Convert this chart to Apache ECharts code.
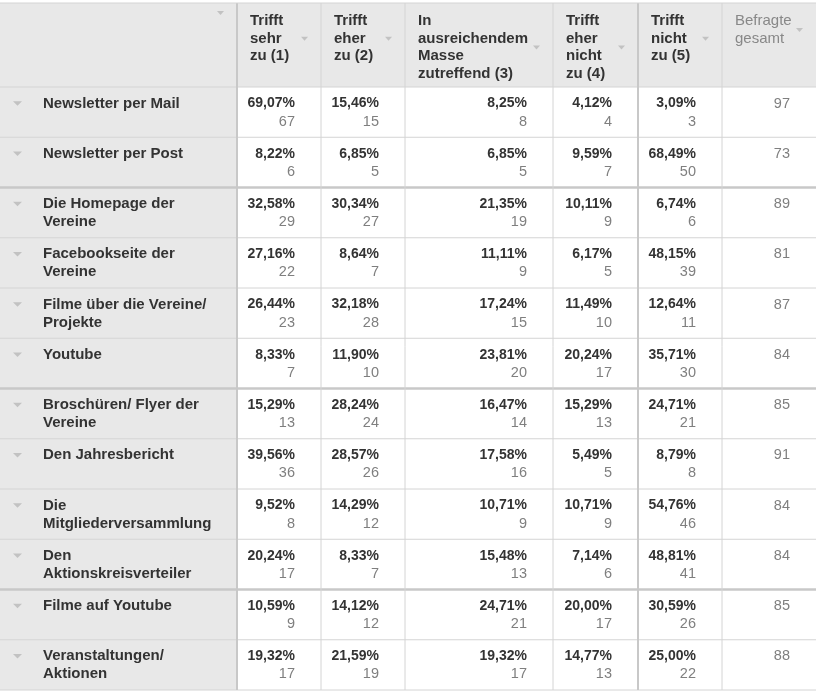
<!DOCTYPE html>
<html>
<head>
<meta charset="utf-8">
<script src="https://cdn.jsdelivr.net/npm/echarts@6/dist/echarts.min.js"></script>
<style>html,body{margin:0;padding:0;background:#fff;}#c{width:819px;height:693px;}</style>
</head>
<body>
<div id="c"></div>
<script>
// ---- data ----
const headers = ["", "Trifft\nsehr\nzu (1)", "Trifft\neher\nzu (2)", "In\nausreichendem\nMasse\nzutreffend (3)", "Trifft\neher\nnicht\nzu (4)", "Trifft\nnicht\nzu (5)", "Befragte\ngesamt"];
const categories = ["Newsletter per Mail", "Newsletter per Post", "Die Homepage der\nVereine", "Facebookseite der\nVereine", "Filme über die Vereine/\nProjekte", "Youtube", "Broschüren/ Flyer der\nVereine", "Den Jahresbericht", "Die\nMitgliederversammlung", "Den\nAktionskreisverteiler", "Filme auf Youtube", "Veranstaltungen/\nAktionen"];
const pct1 = [69.07, 8.22, 32.58, 27.16, 26.44, 8.33, 15.29, 39.56, 9.52, 20.24, 10.59, 19.32];
const cnt1 = [67, 6, 29, 22, 23, 7, 13, 36, 8, 17, 9, 17];
const pct2 = [15.46, 6.85, 30.34, 8.64, 32.18, 11.90, 28.24, 28.57, 14.29, 8.33, 14.12, 21.59];
const cnt2 = [15, 5, 27, 7, 28, 10, 24, 26, 12, 7, 12, 19];
const pct3 = [8.25, 6.85, 21.35, 11.11, 17.24, 23.81, 16.47, 17.58, 10.71, 15.48, 24.71, 19.32];
const cnt3 = [8, 5, 19, 9, 15, 20, 14, 16, 9, 13, 21, 17];
const pct4 = [4.12, 9.59, 10.11, 6.17, 11.49, 20.24, 15.29, 5.49, 10.71, 7.14, 20.00, 14.77];
const cnt4 = [4, 7, 9, 5, 10, 17, 13, 5, 9, 6, 17, 13];
const pct5 = [3.09, 68.49, 6.74, 48.15, 12.64, 35.71, 24.71, 8.79, 54.76, 48.81, 30.59, 25.00];
const cnt5 = [3, 50, 6, 39, 11, 30, 21, 8, 46, 41, 26, 22];
const total = [97, 73, 89, 81, 87, 84, 85, 91, 84, 84, 85, 88];

// ---- layout ----
const colEdges = [0, 237, 321, 405, 553, 638, 722, 816];
const headerTop = 3, headerBottom = 87, rowH = 50.25;
const thickCols = [1, 5];
const thickRows = [2, 6, 10];
const pcts = [pct1, pct2, pct3, pct4, pct5];
const cnts = [cnt1, cnt2, cnt3, cnt4, cnt5];
const nRows = categories.length;
const FONT = '"Liberation Sans", Arial, sans-serif';
const DARK = '#333333', GREY = '#7f7f7f', BG = '#e8e8e8', TRI = '#c2c2c2';

function fmt(v) { return v.toFixed(2).replace('.', ',') + '%'; }
function rowTop(r) { return r < 0 ? headerTop : headerBottom + r * rowH; }
function rowBot(r) { return r < 0 ? headerBottom : headerBottom + (r + 1) * rowH; }

const cellData = [];
for (let r = -1; r < nRows; r++) for (let c = 0; c < 7; c++) cellData.push([c, r]);

const lineData = [];
for (let e = 0; e <= nRows; e++) lineData.push(['h', e]);
for (let c = 1; c < 7; c++) lineData.push(['v', c]);

function tri(cx, cy, w, h) {
  return { type: 'polygon', shape: { points: [[cx - w / 2, cy - h / 2], [cx + w / 2, cy - h / 2], [cx, cy + h / 2]] }, style: { fill: TRI } };
}

function renderCell(params, api) {
  const c = api.value(0), r = api.value(1);
  const p0 = api.coord([colEdges[c], rowTop(r)]);
  const p1 = api.coord([colEdges[c + 1], rowBot(r)]);
  const x0 = p0[0], y0 = p0[1], x1 = p1[0], y1 = p1[1];
  const children = [];
  const header = r < 0;
  const fill = (header || c === 0) ? BG : '#ffffff';
  children.push({ type: 'rect', shape: { x: x0, y: y0, width: x1 - x0, height: y1 - y0 }, style: { fill: fill } });
  if (header) {
    const txt = headers[c];
    const n = txt ? txt.split('\n').length : 0;
    const lh = 17.5;
    if (txt) {
      children.push({ type: 'text', style: { text: txt, x: x0 + 13, y: y0 + 9.5, font: (c === 6 ? 'normal ' : 'bold ') + '15px ' + FONT, fill: c === 6 ? '#888888' : DARK, align: 'left', verticalAlign: 'top', lineHeight: lh } });
    }
    const cy = n ? y0 + 9.5 + n * lh / 2 : y0 + 10;
    children.push(tri(x1 - 16.5, cy, 7, 4));
  } else if (c === 0) {
    children.push(tri(17.5, y0 + 16.5, 9, 4.5));
    children.push({ type: 'text', style: { text: categories[r], x: x0 + 43, y: y0 + 7.5, font: 'bold 15px ' + FONT, fill: DARK, align: 'left', verticalAlign: 'top', lineHeight: 18 } });
  } else if (c <= 5) {
    children.push({ type: 'text', style: { text: fmt(pcts[c - 1][r]), x: x1 - 26, y: y0 + 16.5, font: 'bold 14px ' + FONT, fill: DARK, align: 'right', verticalAlign: 'middle' } });
    children.push({ type: 'text', style: { text: String(cnts[c - 1][r]), x: x1 - 26, y: y0 + 34.5, font: 'normal 14.5px ' + FONT, fill: GREY, align: 'right', verticalAlign: 'middle' } });
  } else {
    children.push({ type: 'text', style: { text: String(total[r]), x: x1 - 26, y: y0 + 16.5, font: 'normal 14.5px ' + FONT, fill: GREY, align: 'right', verticalAlign: 'middle' } });
  }
  return { type: 'group', children: children };
}

function renderLine(params, api) {
  const kind = api.value(0) === 0 ? 'h' : 'v';
  const idx = api.value(1);
  if (kind === 'h') {
    const y = headerBottom + idx * rowH;
    const a = api.coord([colEdges[0], y]), b = api.coord([colEdges[7], y]);
    const thick = thickRows.indexOf(idx) >= 0;
    return { type: 'line', shape: { x1: a[0], y1: a[1], x2: b[0], y2: b[1] }, style: { stroke: thick ? '#c8c8c8' : '#d4d4d4', lineWidth: thick ? 2.5 : 1 } };
  } else {
    const x = colEdges[idx];
    const a = api.coord([x, headerTop]), b = api.coord([x, rowBot(nRows - 1)]);
    const thick = thickCols.indexOf(idx) >= 0;
    return { type: 'line', shape: { x1: a[0], y1: a[1], x2: b[0], y2: b[1] }, style: { stroke: thick ? '#c8c8c8' : '#d4d4d4', lineWidth: thick ? 2 : 1 } };
  }
}

const chart = echarts.init(document.getElementById('c'), null, { renderer: 'canvas' });
chart.setOption({
  animation: false,
  backgroundColor: '#ffffff',
  grid: { left: 0, right: 0, top: 0, bottom: 0 },
  xAxis: { type: 'value', min: 0, max: 819, show: false },
  yAxis: { type: 'value', min: 0, max: 693, inverse: true, show: false },
  series: [
    { type: 'custom', renderItem: renderCell, data: cellData, z: 1, silent: true, clip: false },
    { type: 'custom', renderItem: renderLine, data: lineData.map(d => [d[0] === 'h' ? 0 : 1, d[1]]), z: 2, silent: true, clip: false },
    { type: 'custom', renderItem: function (params, api) {
        const a = api.coord([colEdges[0], headerTop]), b = api.coord([colEdges[7], headerTop]);
        return { type: 'line', shape: { x1: a[0], y1: a[1], x2: b[0], y2: b[1] }, style: { stroke: '#d4d4d4', lineWidth: 1 } };
      }, data: [[0, 0]], z: 3, silent: true, clip: false }
  ]
});
</script>
</body>
</html>
